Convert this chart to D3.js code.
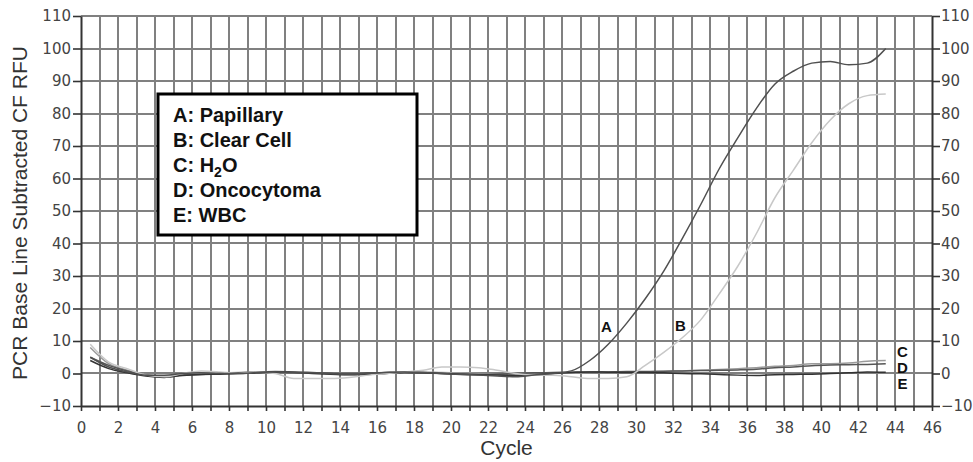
<!DOCTYPE html>
<html lang="en">
<head>
  <meta charset="UTF-8">
  <title>PCR Base Line Subtracted CF RFU</title>
  <style>
    body { margin: 0; background: #fff; }
    .grid line { stroke: #808080; stroke-width: 2px; shape-rendering: crispEdges; }
    .axis-title { font-family: "Liberation Sans", Arial, sans-serif; font-size: 21px; fill: #333; }
    .legend text { font-family: "Liberation Sans", Arial, sans-serif; font-size: 20px; font-weight: bold; fill: #111; }
    .curve-label { font-family: "Liberation Sans", Arial, sans-serif; font-size: 15px; font-weight: bold; fill: #111; }
    .curve { fill: none; stroke-width: 1.5px; }
  </style>
</head>
<body>
  <svg id="chart" width="973" height="462"></svg>
  <script src="https://d3js.org/d3.v7.min.js"></script>
  <script>
    // cycle positions (half-cycle centres)
    const cycles = [0.5, 1.5, 2.5, 3.5, 4.5, 5.5, 6.5, 7.5, 8.5, 9.5, 10.5, 11.5, 12.5, 13.5, 14.5,
      15.5, 16.5, 17.5, 18.5, 19.5, 20.5, 21.5, 22.5, 23.5, 24.5, 25.5, 26.5, 27.5, 28.5, 29.5,
      30.5, 31.5, 32.5, 33.5, 34.5, 35.5, 36.5, 37.5, 38.5, 39.5, 40.5, 41.5, 42.5, 43.5];

    const papillary = [5, 2, 0.5, -0.5, -0.5, 0, 0.2, 0, 0, 0.3, 0.5, 0.3, 0.2, 0, -0.3, 0, 0.3, 0.5, 0.3, 0,
      -0.3, -0.5, -0.8, -1, -0.5, 0, 0.8, 4, 9, 15.5, 23, 31.5, 41.5, 52, 63, 72.5, 81.5, 89, 93, 95.5,
      96, 95, 95.5, 100];
    const clearCell = [9, 3.5, 1.5, -0.5, -1, 0, 0.8, 0.5, 0, 0.5, 0, -1.5, -1.5, -1.5, -1.2, -0.5, 0, 0.5, 1, 2,
      2, 1.8, 1, 0, -0.5, -0.5, -1, -1.5, -1.5, -1, 2.5, 6.5, 11, 16.5, 24.5, 33, 43, 54, 62.5, 71,
      78, 83, 85.5, 86];
    const water = [8, 3, 1, -0.3, -0.8, -0.3, 0, 0.2, 0.3, 0.5, 0.5, 0.3, 0.2, 0, -0.2, 0, 0.3, 0.5, 0.5, 0.3,
      0.2, 0, -0.3, -0.5, -0.3, 0, 0.2, 0.3, 0.4, 0.5, 0.5, 0.6, 0.8, 1, 1.2, 1.5, 1.8, 2.2, 2.5, 3,
      3, 3.2, 3.8, 4];
    const oncocytoma = [5, 2.5, 0.8, -0.5, -1, -0.5, -0.3, 0, 0.2, 0.4, 0.6, 0.5, 0.3, 0.1, 0, 0.2, 0.3, 0.4, 0.2, 0,
      -0.2, -0.3, -0.2, 0, 0.2, 0.3, 0.4, 0.5, 0.5, 0.6, 0.6, 0.7, 0.8, 0.9, 1, 1.1, 1.3, 1.8, 2, 2.4,
      2.6, 2.7, 2.8, 3];
    const wbc = [4, 1.5, 0.2, -0.8, -1.2, -0.6, -0.3, -0.2, 0, 0.2, 0.4, 0.3, 0, -0.2, -0.4, -0.3, 0, 0.3, 0.2, 0,
      -0.2, -0.4, -0.5, -0.6, -0.4, 0, 0.3, 0.5, 0.4, 0.3, 0.3, 0.2, 0, -0.1, -0.3, -0.5, -0.6, -0.4, -0.3, -0.2,
      0, 0.2, 0.5, 0.4];

    const series = [
      {key: "C", values: water, color: "#9a9a9a"},
      {key: "D", values: oncocytoma, color: "#555"},
      {key: "E", values: wbc, color: "#333"},
      {key: "B", values: clearCell, color: "#c8c8c8"},
      {key: "A", values: papillary, color: "#505050"}
    ];

    const legendLines = ["A: Papillary", "B: Clear Cell", "C: H\u2082O", "D: Oncocytoma", "E: WBC"];

    // curve letter annotations in data units
    const curveLabels = [
      {t: "A", cycle: 28.4, value: 14.5},
      {t: "B", cycle: 32.4, value: 14.8},
      {t: "C", cycle: 44.4, value: 6.8},
      {t: "D", cycle: 44.4, value: 1.9},
      {t: "E", cycle: 44.4, value: -3.1}
    ];

    const xTicks = d3.range(0, 47, 1);
    const yTicks = d3.range(-10, 111, 10);

    const svg = d3.select("#chart");
    const plotL = 81, plotR = 932, plotT = 16, plotB = 406;
    const x = d3.scaleLinear().domain([0, 46]).range([plotL, plotR]);
    const y = d3.scaleLinear().domain([-10, 110]).range([plotB, plotT]);

    // grid
    const grid = svg.append("g").attr("class", "grid");
    grid.selectAll(".v").data(xTicks.filter(d => d > 0 && d < 46)).enter().append("line")
      .attr("x1", d => Math.round(x(d))).attr("x2", d => Math.round(x(d)))
      .attr("y1", plotT).attr("y2", plotB);
    grid.selectAll(".h").data(yTicks.filter(d => d > -10)).enter().append("line")
      .attr("x1", plotL).attr("x2", plotR)
      .attr("y1", d => Math.round(y(d))).attr("y2", d => Math.round(y(d)));

    // axes frame
    const axisStyle = g => {
      g.select(".domain").attr("stroke", "#333").attr("stroke-width", 2);
      g.selectAll(".tick line").attr("stroke", "#333").attr("stroke-width", 1.6);
    };

    svg.append("g").attr("transform", `translate(0,${plotB})`)
      .call(d3.axisBottom(x).tickValues(xTicks).tickSize(5).tickSizeOuter(0)
        .tickFormat(d => d % 2 === 0 ? d : ""))
      .call(axisStyle)
      .call(g => g.selectAll(".tick text").attr("dy", "1.25em"));

    svg.append("g").attr("transform", `translate(${plotL},0)`)
      .call(d3.axisLeft(y).tickValues(yTicks).tickSize(8).tickSizeOuter(0).tickPadding(2))
      .call(axisStyle);

    svg.append("g").attr("transform", `translate(${plotR},0)`)
      .call(d3.axisRight(y).tickValues(yTicks).tickSize(8).tickSizeOuter(0).tickPadding(1))
      .call(axisStyle);

    svg.selectAll(".tick text").attr("font-family", "'DejaVu Sans', Verdana, sans-serif")
      .attr("font-size", 15).attr("fill", "#444");

    // curves
    const line = d3.line().x((d, i) => x(cycles[i])).y(d => y(d)).curve(d3.curveMonotoneX);
    svg.append("g").selectAll("path").data(series).enter().append("path")
      .attr("class", "curve")
      .attr("stroke", d => d.color)
      .attr("d", d => line(d.values));

    svg.append("g").selectAll("text").data(curveLabels).enter().append("text")
      .attr("class", "curve-label")
      .attr("x", d => x(d.cycle)).attr("y", d => y(d.value))
      .attr("text-anchor", "middle").attr("dominant-baseline", "central")
      .text(d => d.t);

    // legend
    const legend = svg.append("g").attr("class", "legend");
    legend.append("rect").attr("x", 158).attr("y", 94).attr("width", 259).attr("height", 141)
      .attr("fill", "#fff").attr("stroke", "#000").attr("stroke-width", 3);
    legend.selectAll("text").data(legendLines).enter().append("text")
      .attr("x", 173).attr("y", (d, i) => 122 + i * 25)
      .each(function(d) {
        const t = d3.select(this);
        if (d.includes("\u2082")) {
          t.append("tspan").text("C: H");
          t.append("tspan").attr("dy", 5).attr("font-size", 14).text("2");
          t.append("tspan").attr("dy", -5).text("O");
        } else {
          t.text(d);
        }
      });

    // axis titles
    svg.append("text").attr("class", "axis-title")
      .attr("x", (plotL + plotR) / 2).attr("y", 455).attr("text-anchor", "middle").text("Cycle");
    svg.append("text").attr("class", "axis-title")
      .attr("transform", "translate(27,213) rotate(-90)").attr("text-anchor", "middle")
      .text("PCR Base Line Subtracted CF RFU");
  </script>
</body>
</html>
